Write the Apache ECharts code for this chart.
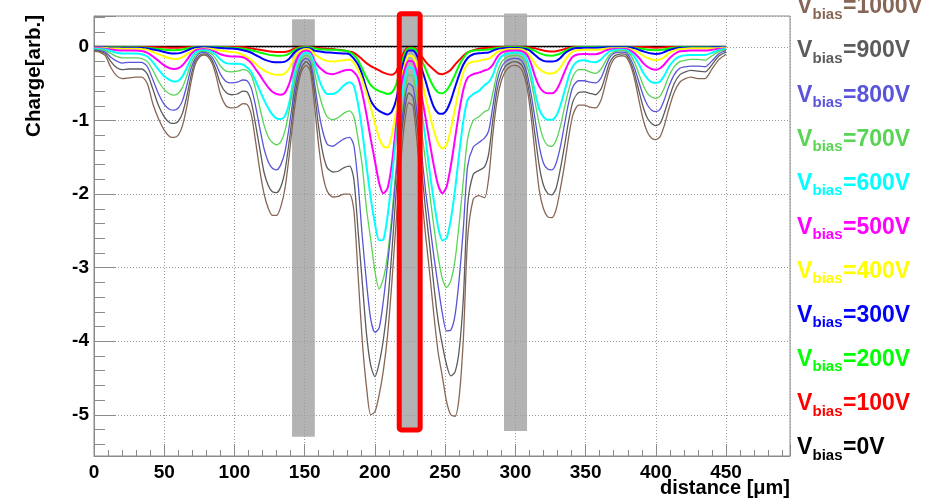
<!DOCTYPE html>
<html><head><meta charset="utf-8">
<script src="https://cdn.jsdelivr.net/npm/echarts@6/dist/echarts.min.js"></script>
<style>html,body{margin:0;padding:0;background:#fff}#chart{width:930px;height:503px}</style>
</head><body><div id="chart"></div>
<script>
// ---------------- data ----------------
const distance = [
  0,4,8,12,16,20,25,30,34,38,42,46,50,
  54,57,60,63,66,69,72,75,78,81,84,87,90,
  94,98,102,106,109,112,115,118,121,124,127,130,133,136,139,142,145,148,151,
  154,157,160,163,166,170,174,178,182,185,188,191,194,197,200,203,206,209,212,215,218,221,224,
  227,230,233,236,239,242,245,248,251,254,257,260,263,266,270,274,278,281,284,287,290,293,296,299,
  302,305,308,311,314,317,320,323,326,329,332,335,338,341,345,349,353,357,361,364,367,370,373,376,379,
  382,385,388,391,394,397,400,403,406,409,413,417,421,425,430,435,440,445,450
];
const charge0V = [
  0.006,0.006,0.006,0.006,0.006,0.006,0.006,0.006,0.006,0.006,0.006,0.006,0.006,
  0.006,0.006,0.006,0.006,0.006,0.006,0.006,0.006,0.006,0.006,0.006,0.006,0.006,
  0.006,0.006,0.006,0.006,0.006,0.006,0.006,0.006,0.006,0.006,0.006,0.006,0.006,0.006,0.006,0.006,0.006,0.006,0.006,
  0.006,0.006,0.006,0.006,0.006,0.006,0.006,0.006,0.006,0.006,0.006,0.006,0.006,0.006,0.006,0.006,0.006,0.006,0.006,0.006,0.006,0.006,0.006,
  0.006,0.006,0.006,0.006,0.006,0.006,0.006,0.006,0.006,0.006,0.006,0.006,0.006,0.006,0.006,0.006,0.006,0.006,0.006,0.006,0.006,0.006,0.006,0.006,
  0.006,0.006,0.006,0.006,0.006,0.006,0.006,0.006,0.006,0.006,0.006,0.006,0.006,0.006,0.006,0.006,0.006,0.006,0.006,0.006,0.006,0.006,0.006,0.006,0.006,
  0.006,0.006,0.006,0.006,0.006,0.006,0.006,0.006,0.006,0.006,0.006,0.006,0.006,0.006,0.006,0.006,0.006,0.006,0.006
];
const charge100V = [
  0,0,0,0,0,0,0,0,0,0,-0.003,-0.005,-0.008,
  -0.01,-0.01,-0.01,-0.008,-0.005,0,0,0,0,0,0,0,0,
  0,0,0,-0.005,-0.01,-0.02,-0.03,-0.04,-0.05,-0.058,-0.065,-0.07,-0.07,-0.068,-0.055,-0.03,-0.012,-0.005,0,
  -0.005,-0.01,-0.015,-0.02,-0.025,-0.03,-0.04,-0.05,-0.065,-0.08,-0.12,-0.17,-0.22,-0.26,-0.29,-0.32,-0.35,-0.37,-0.38,-0.34,-0.20,-0.06,-0.01,
  -0.01,-0.04,-0.12,-0.20,-0.26,-0.31,-0.36,-0.37,-0.35,-0.31,-0.24,-0.18,-0.12,-0.075,-0.045,-0.025,-0.015,-0.01,-0.008,-0.005,0,0,0,0,
  0,0,-0.005,-0.01,-0.02,-0.035,-0.05,-0.06,-0.064,-0.06,-0.045,-0.03,-0.015,-0.005,0,0,0,0,0,0,0,0,0,0,0,
  0,0,0,0,-0.005,-0.008,-0.01,-0.008,-0.005,0,0,0,0,0,0,0,0,0,0
];
const charge200V = [
  -0.005,-0.005,-0.005,-0.005,-0.005,-0.005,-0.005,-0.005,-0.008,-0.01,-0.02,-0.03,-0.038,
  -0.044,-0.045,-0.043,-0.035,-0.022,-0.01,-0.005,0,0,0,0,-0.003,-0.005,
  -0.008,-0.01,-0.015,-0.025,-0.035,-0.045,-0.06,-0.075,-0.09,-0.105,-0.115,-0.12,-0.12,-0.115,-0.09,-0.05,-0.02,-0.008,-0.005,
  -0.008,-0.02,-0.03,-0.035,-0.04,-0.04,-0.045,-0.05,-0.07,-0.11,-0.18,-0.30,-0.42,-0.52,-0.57,-0.60,-0.62,-0.64,-0.62,-0.52,-0.30,-0.10,-0.02,
  -0.02,-0.06,-0.17,-0.30,-0.44,-0.55,-0.62,-0.63,-0.59,-0.50,-0.38,-0.25,-0.15,-0.08,-0.05,-0.045,-0.04,-0.035,-0.025,-0.015,-0.01,-0.005,-0.005,-0.005,
  -0.005,-0.008,-0.015,-0.03,-0.055,-0.085,-0.105,-0.118,-0.12,-0.11,-0.09,-0.06,-0.03,-0.012,-0.005,-0.003,-0.003,-0.003,-0.002,0,0,0,0,0,0,
  -0.003,-0.01,-0.02,-0.03,-0.038,-0.043,-0.045,-0.043,-0.035,-0.022,-0.01,-0.005,-0.003,-0.003,-0.003,-0.003,-0.002,0,0
];
const charge300V = [
  -0.005,-0.005,-0.008,-0.01,-0.01,-0.012,-0.012,-0.012,-0.015,-0.02,-0.035,-0.05,-0.07,
  -0.085,-0.09,-0.088,-0.075,-0.05,-0.025,-0.01,-0.005,-0.005,-0.005,-0.008,-0.01,-0.015,
  -0.02,-0.022,-0.03,-0.045,-0.06,-0.08,-0.11,-0.14,-0.17,-0.19,-0.205,-0.21,-0.21,-0.20,-0.16,-0.09,-0.04,-0.02,-0.015,
  -0.02,-0.05,-0.06,-0.07,-0.075,-0.08,-0.085,-0.09,-0.10,-0.16,-0.24,-0.38,-0.57,-0.73,-0.82,-0.87,-0.90,-0.92,-0.88,-0.73,-0.42,-0.16,-0.05,
  -0.05,-0.12,-0.28,-0.46,-0.66,-0.82,-0.90,-0.91,-0.86,-0.73,-0.55,-0.38,-0.24,-0.15,-0.10,-0.085,-0.08,-0.075,-0.05,-0.03,-0.02,-0.015,-0.015,-0.015,
  -0.015,-0.02,-0.03,-0.06,-0.11,-0.16,-0.19,-0.20,-0.20,-0.19,-0.15,-0.09,-0.05,-0.025,-0.015,-0.01,-0.01,-0.01,-0.008,-0.005,-0.005,-0.005,-0.005,-0.005,-0.005,
  -0.008,-0.02,-0.04,-0.06,-0.078,-0.09,-0.095,-0.09,-0.07,-0.045,-0.025,-0.012,-0.01,-0.008,-0.008,-0.008,-0.006,-0.005,-0.005
];
const charge400V = [
  -0.01,-0.012,-0.015,-0.02,-0.022,-0.025,-0.025,-0.025,-0.03,-0.04,-0.07,-0.10,-0.13,
  -0.155,-0.165,-0.16,-0.14,-0.10,-0.06,-0.035,-0.025,-0.02,-0.022,-0.03,-0.04,-0.05,
  -0.06,-0.07,-0.08,-0.11,-0.14,-0.18,-0.23,-0.28,-0.32,-0.35,-0.37,-0.38,-0.38,-0.36,-0.29,-0.17,-0.08,-0.04,-0.03,
  -0.04,-0.10,-0.14,-0.17,-0.19,-0.20,-0.19,-0.18,-0.17,-0.22,-0.31,-0.45,-0.63,-0.82,-1.04,-1.24,-1.35,-1.37,-1.20,-0.88,-0.52,-0.26,-0.12,
  -0.13,-0.25,-0.44,-0.68,-0.92,-1.14,-1.31,-1.38,-1.33,-1.12,-0.84,-0.56,-0.34,-0.23,-0.20,-0.19,-0.17,-0.16,-0.12,-0.07,-0.045,-0.035,-0.03,-0.03,
  -0.03,-0.035,-0.07,-0.14,-0.23,-0.30,-0.34,-0.36,-0.36,-0.34,-0.28,-0.19,-0.11,-0.06,-0.045,-0.04,-0.04,-0.04,-0.035,-0.025,-0.02,-0.02,-0.02,-0.02,-0.02,
  -0.03,-0.05,-0.08,-0.12,-0.15,-0.17,-0.18,-0.17,-0.14,-0.09,-0.05,-0.03,-0.025,-0.02,-0.02,-0.02,-0.018,-0.015,-0.01
];
const charge500V = [
  -0.02,-0.02,-0.025,-0.035,-0.045,-0.05,-0.05,-0.05,-0.055,-0.08,-0.13,-0.19,-0.25,
  -0.29,-0.30,-0.29,-0.25,-0.18,-0.10,-0.05,-0.035,-0.03,-0.035,-0.05,-0.07,-0.10,
  -0.12,-0.13,-0.13,-0.14,-0.17,-0.22,-0.30,-0.38,-0.47,-0.55,-0.61,-0.64,-0.65,-0.62,-0.50,-0.30,-0.14,-0.07,-0.05,
  -0.07,-0.19,-0.27,-0.32,-0.36,-0.37,-0.35,-0.32,-0.31,-0.34,-0.42,-0.63,-0.92,-1.25,-1.55,-1.85,-1.99,-1.92,-1.60,-1.08,-0.62,-0.32,-0.19,
  -0.20,-0.36,-0.64,-0.96,-1.30,-1.62,-1.88,-1.99,-1.90,-1.62,-1.25,-0.88,-0.58,-0.42,-0.37,-0.35,-0.32,-0.30,-0.24,-0.14,-0.08,-0.06,-0.05,-0.05,
  -0.05,-0.06,-0.10,-0.22,-0.40,-0.54,-0.61,-0.63,-0.63,-0.59,-0.48,-0.34,-0.21,-0.13,-0.10,-0.095,-0.10,-0.10,-0.08,-0.05,-0.035,-0.03,-0.03,-0.03,-0.03,
  -0.05,-0.09,-0.15,-0.22,-0.27,-0.30,-0.31,-0.29,-0.24,-0.17,-0.10,-0.06,-0.055,-0.05,-0.05,-0.05,-0.04,-0.025,-0.02
];
const charge600V = [
  -0.025,-0.03,-0.035,-0.055,-0.08,-0.09,-0.09,-0.09,-0.10,-0.13,-0.21,-0.31,-0.40,
  -0.45,-0.47,-0.46,-0.40,-0.29,-0.16,-0.08,-0.05,-0.045,-0.05,-0.07,-0.11,-0.17,
  -0.22,-0.23,-0.23,-0.24,-0.28,-0.34,-0.46,-0.59,-0.72,-0.83,-0.92,-0.97,-0.98,-0.94,-0.76,-0.45,-0.23,-0.11,-0.08,
  -0.10,-0.23,-0.43,-0.57,-0.64,-0.64,-0.60,-0.52,-0.48,-0.53,-0.78,-1.15,-1.62,-2.05,-2.40,-2.63,-2.62,-2.30,-1.80,-1.25,-0.80,-0.46,-0.28,
  -0.29,-0.50,-0.85,-1.25,-1.70,-2.10,-2.45,-2.63,-2.60,-2.35,-1.95,-1.45,-1.00,-0.72,-0.64,-0.60,-0.52,-0.48,-0.38,-0.22,-0.13,-0.10,-0.085,-0.08,
  -0.08,-0.10,-0.17,-0.35,-0.62,-0.85,-0.95,-0.99,-0.99,-0.94,-0.80,-0.60,-0.40,-0.26,-0.19,-0.18,-0.20,-0.21,-0.17,-0.11,-0.06,-0.045,-0.04,-0.04,-0.045,
  -0.08,-0.14,-0.24,-0.35,-0.43,-0.48,-0.49,-0.47,-0.39,-0.28,-0.18,-0.13,-0.115,-0.11,-0.11,-0.11,-0.08,-0.045,-0.03
];
const charge700V = [
  -0.035,-0.04,-0.05,-0.09,-0.13,-0.15,-0.15,-0.15,-0.16,-0.20,-0.32,-0.47,-0.58,
  -0.64,-0.655,-0.63,-0.55,-0.40,-0.23,-0.12,-0.07,-0.06,-0.07,-0.10,-0.17,-0.26,
  -0.33,-0.34,-0.33,-0.31,-0.32,-0.39,-0.57,-0.82,-1.06,-1.22,-1.30,-1.33,-1.29,-1.14,-0.86,-0.54,-0.29,-0.16,-0.115,
  -0.15,-0.35,-0.62,-0.82,-0.95,-0.99,-0.96,-0.90,-0.87,-0.95,-1.25,-1.62,-2.20,-2.62,-3.05,-3.29,-3.15,-2.83,-2.30,-1.65,-1.10,-0.65,-0.38,
  -0.40,-0.70,-1.10,-1.55,-2.00,-2.45,-2.85,-3.15,-3.27,-3.18,-2.90,-2.40,-1.80,-1.25,-1.00,-0.95,-0.88,-0.85,-0.62,-0.36,-0.21,-0.15,-0.125,-0.115,
  -0.12,-0.15,-0.25,-0.45,-0.75,-1.05,-1.25,-1.34,-1.35,-1.27,-1.08,-0.82,-0.58,-0.40,-0.31,-0.31,-0.34,-0.36,-0.30,-0.20,-0.11,-0.07,-0.055,-0.05,-0.06,
  -0.11,-0.22,-0.37,-0.52,-0.63,-0.68,-0.70,-0.67,-0.56,-0.41,-0.27,-0.20,-0.18,-0.17,-0.17,-0.18,-0.12,-0.06,-0.04
];
const charge800V = [
  -0.04,-0.05,-0.07,-0.14,-0.19,-0.22,-0.21,-0.21,-0.21,-0.27,-0.45,-0.64,-0.78,
  -0.85,-0.86,-0.83,-0.73,-0.53,-0.30,-0.16,-0.09,-0.075,-0.09,-0.14,-0.24,-0.37,
  -0.47,-0.49,-0.48,-0.45,-0.46,-0.56,-0.80,-1.10,-1.38,-1.56,-1.65,-1.67,-1.60,-1.42,-1.08,-0.68,-0.37,-0.20,-0.155,
  -0.21,-0.50,-0.88,-1.16,-1.32,-1.35,-1.30,-1.25,-1.23,-1.34,-1.85,-2.58,-3.20,-3.70,-3.88,-3.82,-3.45,-2.95,-2.40,-1.75,-1.20,-0.75,-0.50,
  -0.54,-0.90,-1.40,-1.95,-2.40,-2.85,-3.25,-3.62,-3.86,-3.85,-3.65,-3.15,-2.45,-1.62,-1.36,-1.30,-1.24,-1.14,-0.80,-0.46,-0.28,-0.20,-0.17,-0.155,
  -0.16,-0.20,-0.34,-0.62,-0.98,-1.35,-1.58,-1.66,-1.67,-1.58,-1.36,-1.05,-0.75,-0.54,-0.46,-0.46,-0.48,-0.49,-0.42,-0.28,-0.15,-0.09,-0.075,-0.07,-0.08,
  -0.16,-0.30,-0.48,-0.66,-0.79,-0.86,-0.88,-0.85,-0.72,-0.55,-0.38,-0.29,-0.27,-0.26,-0.26,-0.27,-0.19,-0.09,-0.05
];
const charge900V = [
  -0.05,-0.06,-0.09,-0.20,-0.28,-0.31,-0.30,-0.30,-0.30,-0.37,-0.58,-0.80,-0.95,
  -1.03,-1.04,-1.01,-0.90,-0.68,-0.40,-0.20,-0.12,-0.095,-0.11,-0.18,-0.32,-0.50,
  -0.62,-0.65,-0.64,-0.60,-0.61,-0.75,-1.05,-1.38,-1.70,-1.88,-1.97,-1.98,-1.90,-1.68,-1.28,-0.82,-0.46,-0.27,-0.20,
  -0.27,-0.62,-1.10,-1.45,-1.64,-1.70,-1.69,-1.64,-1.62,-1.80,-2.50,-3.20,-3.90,-4.33,-4.48,-4.30,-3.98,-3.50,-2.80,-2.00,-1.35,-0.88,-0.63,
  -0.68,-1.08,-1.62,-2.20,-2.70,-3.25,-3.72,-4.05,-4.32,-4.47,-4.42,-4.12,-3.40,-2.15,-1.73,-1.68,-1.63,-1.45,-0.98,-0.58,-0.37,-0.26,-0.22,-0.20,
  -0.21,-0.26,-0.43,-0.76,-1.20,-1.62,-1.88,-1.99,-2.01,-1.92,-1.66,-1.34,-1.00,-0.74,-0.62,-0.61,-0.63,-0.65,-0.57,-0.40,-0.22,-0.13,-0.10,-0.095,-0.11,
  -0.21,-0.38,-0.60,-0.82,-0.97,-1.04,-1.07,-1.04,-0.90,-0.72,-0.50,-0.38,-0.34,-0.32,-0.33,-0.34,-0.24,-0.12,-0.07
];
const charge1000V = [
  -0.06,-0.07,-0.12,-0.28,-0.39,-0.43,-0.42,-0.41,-0.41,-0.50,-0.78,-0.98,-1.13,
  -1.22,-1.23,-1.20,-1.07,-0.82,-0.49,-0.24,-0.14,-0.11,-0.13,-0.22,-0.40,-0.64,
  -0.80,-0.83,-0.82,-0.77,-0.78,-0.92,-1.28,-1.67,-1.99,-2.19,-2.29,-2.29,-2.17,-1.92,-1.47,-0.95,-0.55,-0.32,-0.25,
  -0.33,-0.80,-1.35,-1.75,-1.96,-2.04,-2.03,-2.00,-2.00,-2.22,-3.10,-4.00,-4.62,-5.00,-4.96,-4.73,-4.40,-3.92,-3.22,-2.40,-1.65,-1.05,-0.76,
  -0.80,-1.30,-1.95,-2.55,-3.08,-3.65,-4.15,-4.48,-4.82,-5.00,-5.02,-4.75,-3.95,-2.60,-2.07,-2.02,-2.05,-1.78,-1.18,-0.72,-0.46,-0.33,-0.27,-0.25,
  -0.26,-0.33,-0.52,-0.92,-1.45,-1.95,-2.20,-2.31,-2.32,-2.21,-1.93,-1.60,-1.22,-0.92,-0.79,-0.79,-0.82,-0.83,-0.72,-0.51,-0.29,-0.17,-0.13,-0.12,-0.14,
  -0.25,-0.45,-0.73,-0.99,-1.16,-1.24,-1.26,-1.22,-1.07,-0.86,-0.62,-0.48,-0.43,-0.41,-0.43,-0.43,-0.30,-0.17,-0.10
];
const biasLabels = ['0V','100V','200V','300V','400V','500V','600V','700V','800V','900V','1000V'];
const xTickValues = [0,50,100,150,200,250,300,350,400,450];
// shaded strip regions (x from, x to, y top, y bottom) in data units
const stripFrom   = [141.0, 291.9, 217.3];
const stripTo     = [157.2, 308.3, 232.2];
const stripTop    = [0.376, 0.454, 0.451];
const stripBottom = [-5.30, -5.22, -5.205];
const highlightStrip = 2;

// ---------------- styling ----------------
const FONT = "'Liberation Sans', Arial, Helvetica, sans-serif";
const allCharge = [charge0V,charge100V,charge200V,charge300V,charge400V,charge500V,charge600V,charge700V,charge800V,charge900V,charge1000V];
const colors = ['#000000','#ff0000','#00ff00','#0000ff','#ffff00','#ff00ff','#00ffff','#59d454','#5954d8','#5c5c5c','#876656'];
const widths = [1.5,2,2,2,2,2,2,1.3,1.3,1.3,1.3];
const AX = '#8a8a8a';

const lineSeries = allCharge.map((vals, k) => ({
  type: 'line',
  name: biasLabels[k],
  data: distance.map((d, i) => [d, vals[i]]),
  symbol: 'none',
  smooth: 0.25,
  silent: true,
  z: 3,
  lineStyle: { color: colors[k], width: widths[k] }
}));

const stripData = stripFrom.map((x0, i) => [x0, stripTo[i], stripTop[i], stripBottom[i]]);

const bandSeries = {
  type: 'custom',
  clip: false,
  silent: true,
  z: 0,
  encode: { x: [0, 1], y: [2, 3] },
  data: stripData,
  renderItem: function (params, api) {
    const p0 = api.coord([api.value(0), api.value(2)]);
    const p1 = api.coord([api.value(1), api.value(3)]);
    return { type: 'rect', shape: { x: p0[0], y: p0[1], width: p1[0] - p0[0], height: p1[1] - p0[1] },
             style: { fill: '#b3b3b3' } };
  }
};
const boxSeries = {
  type: 'custom',
  clip: false,
  silent: true,
  z: 5,
  encode: { x: [0, 1], y: [2, 3] },
  data: [stripData[highlightStrip]],
  renderItem: function (params, api) {
    const p0 = api.coord([api.value(0), api.value(2)]);
    const p1 = api.coord([api.value(1), api.value(3)]);
    return { type: 'rect', shape: { x: p0[0], y: p0[1], width: p1[0] - p0[0], height: p1[1] - p0[1], r: 2 },
             style: { fill: null, stroke: '#ff0000', lineWidth: 5, lineJoin: 'round' } };
  }
};

// legend as text
const legendGraphics = [];
for (let j = 0; j < biasLabels.length; j++) {
  const k = biasLabels.length - 1 - j;
  const base = 15 + 44.1 * j;
  const c = colors[k];
  legendGraphics.push(
    { type: 'text', x: 797, y: base - 8, style: { text: 'V', fill: c, font: 'bold 23px ' + FONT, verticalAlign: 'middle', align: 'left' } },
    { type: 'text', x: 812.5, y: base - 0.5, style: { text: 'bias', fill: c, font: 'bold 15px ' + FONT, verticalAlign: 'middle', align: 'left' } },
    { type: 'text', x: 843, y: base - 8, style: { text: '=' + biasLabels[k], fill: c, font: 'bold 23px ' + FONT, verticalAlign: 'middle', align: 'left' } }
  );
}

const chart = echarts.init(document.getElementById('chart'), null, { renderer: 'canvas' });
chart.setOption({
  animation: false,
  backgroundColor: '#ffffff',
  grid: { left: 94, right: 140, top: 16, height: 440, show: true, borderColor: AX, borderWidth: 1, backgroundColor: 'transparent' },
  xAxis: {
    type: 'value', min: 0, max: 495.5, interval: 50, z: 1,
    axisLine: { show: true, onZero: false, lineStyle: { color: AX, width: 1 } },
    axisTick: { show: true, inside: true, length: 12, lineStyle: { color: AX, width: 1 } },
    minorTick: { show: true, splitNumber: 5, length: 6, lineStyle: { color: AX, width: 1 } },
    axisLabel: { showMaxLabel: false, margin: 7, fontSize: 19, fontWeight: 'bold', color: '#000', fontFamily: FONT,
                 formatter: v => (xTickValues.indexOf(v) >= 0 ? String(v) : '') },
    splitLine: { show: true, lineStyle: { color: '#9a9a9a', width: 1, type: [1, 2] } }
  },
  yAxis: {
    type: 'value', min: -5.56, max: 0.42, splitNumber: 6, z: 1,
    axisLine: { show: true, onZero: false, lineStyle: { color: AX, width: 1 } },
    axisTick: { show: true, inside: true, length: 22, lineStyle: { color: AX, width: 1 } },
    minorTick: { show: true, splitNumber: 5, length: 11, lineStyle: { color: AX, width: 1 } },
    axisLabel: { showMinLabel: false, showMaxLabel: false, margin: 5, fontSize: 19, fontWeight: 'bold', color: '#000', fontFamily: FONT,
                 formatter: v => (Math.abs(v - Math.round(v)) < 1e-6 ? String(Math.round(v)) : '') },
    splitLine: { show: true, lineStyle: { color: '#9a9a9a', width: 1, type: [1, 2] } }
  },
  graphic: [
    { type: 'text', x: 34, y: 15, rotation: Math.PI / 2,
      style: { text: 'Charge[arb.]', fill: '#000', font: 'bold 20.5px ' + FONT, align: 'right', verticalAlign: 'middle' } },
    { type: 'text', x: 790, y: 488,
      style: { text: 'distance [\u03bcm]', fill: '#000', font: 'bold 20px ' + FONT, align: 'right', verticalAlign: 'middle' } }
  ].concat(legendGraphics),
  series: [bandSeries].concat(lineSeries).concat([boxSeries])
});
</script>
</body></html>
